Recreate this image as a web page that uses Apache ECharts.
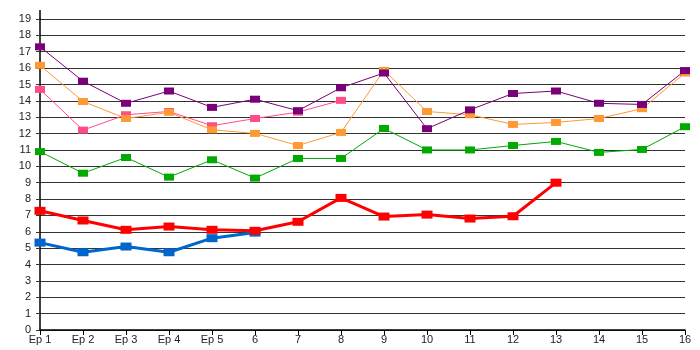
<!DOCTYPE html>
<html>
<head>
<meta charset="utf-8">
<script src="https://cdn.jsdelivr.net/npm/echarts@6/dist/echarts.min.js"></script>
<style>html,body{margin:0;padding:0;background:#fff;}#c{width:700px;height:350px;}</style>
</head>
<body>
<div id="c"></div>
<script>
var categories = ['Ep 1','Ep 2','Ep 3','Ep 4','Ep 5','6','7','8','9','10','11','12','13','14','15','16'];
var yTicks = [0,1,2,3,4,5,6,7,8,9,10,11,12,13,14,15,16,17,18,19];
var purple = [17.3,15.2,13.85,14.6,13.6,14.1,13.4,14.8,15.7,12.3,13.45,14.45,14.6,13.85,13.78,15.85];
var orange = [16.17,13.96,12.92,13.3,12.23,12.01,11.27,12.07,15.86,13.35,13.15,12.56,12.68,12.92,13.52,15.7];
var pink = [14.7,12.21,13.15,13.35,12.48,12.92,13.31,14.03];
var green = [10.9,9.58,10.54,9.34,10.4,9.28,10.48,10.48,12.31,11.0,11.0,11.27,11.52,10.85,11.03,12.42];
var red = [7.28,6.69,6.12,6.32,6.12,6.06,6.61,8.07,6.93,7.05,6.81,6.95,9.0];
var blue = [5.34,4.75,5.1,4.75,5.61,5.95];

function mk(name, data, color, width, z) {
  return {
    name: name, type: 'line', data: data, z: z,
    symbol: 'rect', symbolSize: width > 1 ? [11, 8] : [10, 7], showSymbol: true,
    lineStyle: { color: color, width: width },
    itemStyle: { color: color },
    animation: false
  };
}

var chart = echarts.init(document.getElementById('c'), null, { renderer: 'canvas' });
chart.setOption({
  animation: false,
  backgroundColor: '#ffffff',
  grid: { left: 40, right: 15, top: 19, bottom: 20, containLabel: false },
  xAxis: {
    type: 'category', data: categories, boundaryGap: false,
    axisLine: { lineStyle: { color: '#000', width: 1.5 } },
    axisTick: { show: true, length: 5, lineStyle: { color: '#000' } },
    axisLabel: { color: '#222', fontFamily: 'Liberation Sans, Arial, sans-serif', fontSize: 11, margin: 4, interval: 0 },
    splitLine: { show: false }
  },
  yAxis: {
    type: 'value', min: yTicks[0], max: yTicks[yTicks.length - 1], interval: 1,
    axisLine: { show: true, lineStyle: { color: '#000', width: 1.5 } },
    axisTick: { show: true, length: 4, lineStyle: { color: '#333' } },
    axisLabel: { color: '#222', fontFamily: 'Liberation Sans, Arial, sans-serif', fontSize: 11, margin: 9 },
    splitLine: { show: true, lineStyle: { color: '#333', width: 1.2 } }
  },
  graphic: [{
    type: 'line', shape: { x1: 40, y1: 10, x2: 40, y2: 19 },
    style: { stroke: '#000', lineWidth: 1.5 }, z: 100
  }],
  series: [
    mk('green', green, '#00aa00', 1, 2),
    mk('pink', pink, '#ff4d88', 1, 3),
    mk('orange', orange, '#ff9933', 1, 4),
    mk('purple', purple, '#7a007a', 1, 5),
    mk('blue', blue, '#0066cc', 3, 6),
    mk('red', red, '#ff0000', 3, 7)
  ]
});
</script>
</body>
</html>
